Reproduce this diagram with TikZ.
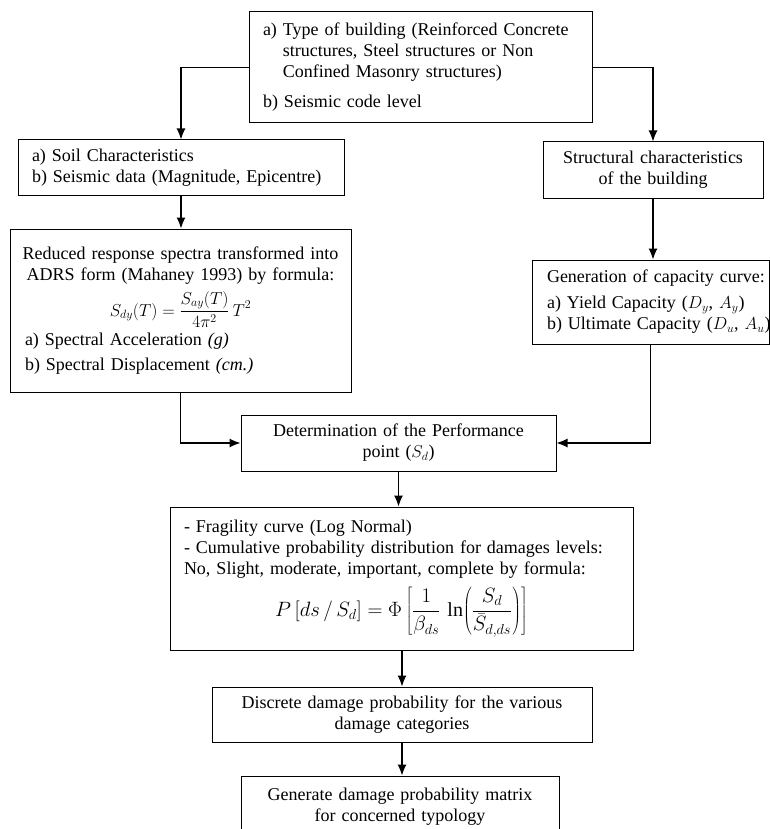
\documentclass[tikz,border=0pt]{standalone}
\usepackage{fontspec}
\setmainfont{Liberation Serif}
\usetikzlibrary{arrows.meta}

\begin{document}
\begin{tikzpicture}[x=1pt, y=-1pt]
    \tikzset{>={Latex[length=11pt,width=9pt]},
      box/.style={draw, line width=1pt, inner sep=0pt,
        font=\fontsize{18}{21}\selectfont},
      link/.style={->, line width=1.2pt}}

    \useasboundingbox (0, 0) rectangle (770, 829);
    \clip (0, 0) rectangle (770, 829);

    % Draw the input boxes
    \node[box, minimum width=343pt, minimum height=111pt, text width=315pt,
        align=left] (type) at (420.5, 67.5)
        {a) Type of building (Reinforced Concrete\\
         \phantom{a) }structures, Steel structures or Non\\
         \phantom{a) }Confined Masonry structures)\\[9pt]
         b) Seismic code level};

    \node[box, minimum width=326pt, minimum height=55pt, text width=298pt,
        align=left] (soil) at (181, 167.5)
        {a) Soil Characteristics\\
         b) Seismic data (Magnitude, Epicentre)};

    \node[box, minimum width=220pt, minimum height=56pt, text width=200pt,
        align=center] (struct) at (653, 170)
        {Structural characteristics\\ of the building};

    % Draw the spectra and capacity boxes
    \node[box, minimum width=341pt, minimum height=163pt, text width=317pt,
        align=center] (spectra) at (180.5, 310.5)
        {Reduced response spectra transformed into\\
         ADRS form (Mahaney 1993) by formula:\\[6pt]
         \makebox[\linewidth]{\fontsize{17}{19}\selectfont
           $\displaystyle S_{dy}(T)=\frac{S_{ay}(T)}{4\pi^{2}}\,T^{2}$}\\[4pt]
         \makebox[\linewidth][l]{\hspace*{3pt}a) Spectral Acceleration \textit{(g)}}\\[4pt]
         \makebox[\linewidth][l]{\hspace*{3pt}b) Spectral Displacement \textit{(cm.)}}};

    \node[box, minimum width=237pt, minimum height=84pt, text width=207pt,
        align=left] (capacity) at (650.5, 302)
        {\mbox{Generation of capacity curve:}\\[5pt]
         \mbox{a) Yield Capacity ($D_y$, $A_y$)}\\
         \mbox{b) Ultimate Capacity ($D_u$, $A_u$)}};

    % Draw the performance and damage boxes
    \node[box, minimum width=315pt, minimum height=56pt, text width=295pt,
        align=center] (perf) at (398.5, 443)
        {Determination of the Performance\\ point ($S_d$)};

    \node[box, minimum width=463pt, minimum height=143pt, text width=435pt,
        align=left] (fragility) at (401.5, 578.5)
        {- Fragility curve (Log Normal)\\
         \makebox[\linewidth][s]{- Cumulative probability distribution for damages levels:}\\
         No, Slight, moderate, important, complete by formula:\\[8pt]
         \makebox[\linewidth]{\fontsize{20}{22}\selectfont
           $\displaystyle P\left[ds \,/\, S_d\right]
           =\Phi\left[\frac{1}{\beta_{ds}}\,\ln\!\left(\frac{S_d}{\bar{S}_{d,ds}}\right)\right]$}};

    \node[box, minimum width=380pt, minimum height=55pt, text width=360pt,
        align=center] (discrete) at (402, 714.5)
        {Discrete damage probability for the various\\ damage categories};

    \node[box, minimum width=318pt, minimum height=62pt, text width=300pt,
        align=center] (matrix) at (400, 807)
        {Generate damage probability matrix\\ for concerned typology};

    % Draw the connectors
    \draw[link] (type.west) -| (soil.north);
    \draw[link] (type.east) -| (struct.north);
    \draw[link] (soil.south) -- (soil.south |- spectra.north);
    \draw[link] (struct.south) -- (struct.south |- capacity.north);
    \draw[link] (spectra.south) |- (perf.west);
    \draw[link] (capacity.south) |- (perf.east);
    \draw[link] (perf.south) -- (perf.south |- fragility.north);
    \draw[link] (discrete.north |- fragility.south) -- (discrete.north);
    \draw[link] (discrete.south) -- (discrete.south |- matrix.north);
\end{tikzpicture}
\end{document}
